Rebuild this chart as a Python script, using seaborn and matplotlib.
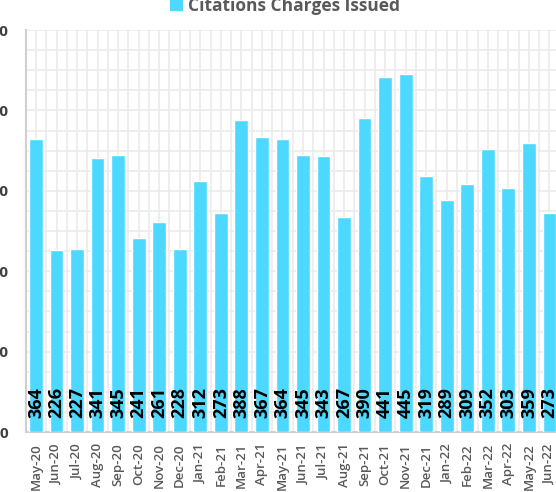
import pandas as pd
import matplotlib.pyplot as plt
import seaborn as sns
from matplotlib.ticker import MultipleLocator
from matplotlib.patches import Patch

# data
months = ["May-20", "Jun-20", "Jul-20", "Aug-20", "Sep-20", "Oct-20", "Nov-20", "Dec-20",
          "Jan-21", "Feb-21", "Mar-21", "Apr-21", "May-21", "Jun-21", "Jul-21", "Aug-21",
          "Sep-21", "Oct-21", "Nov-21", "Dec-21", "Jan-22", "Feb-22", "Mar-22", "Apr-22",
          "May-22", "Jun-22"]
citations = [364, 226, 227, 341, 345, 241, 261, 228, 312, 273, 388, 367, 364, 345, 343, 267,
             390, 441, 445, 319, 289, 309, 352, 303, 359, 273]
series_name = "Citations Charges Issued"

df = pd.DataFrame({"Month": months, "Citations": citations})

sns.set_theme(style="white")
plt.rcParams['font.family'] = ['Open Sans', 'DejaVu Sans']

bar_color = "#4DD9FF"
fig = plt.figure(figsize=(5.56, 4.92), dpi=100)
ax = fig.add_axes([25.7 / 556, 60 / 492, 534 / 556, 402 / 492])

sns.barplot(data=df, x="Month", y="Citations", color=bar_color, width=0.67,
            saturation=1, ax=ax, zorder=3)

ax.set_ylim(0, 500)
ax.set_xlim(-0.5, len(months) - 0.5)
ax.yaxis.set_major_locator(MultipleLocator(100))
ax.yaxis.set_minor_locator(MultipleLocator(25))
ax.set_xticks([i + 0.5 for i in range(-1, len(months))], minor=True)
ax.grid(True, which="both", color="#ebebeb", linewidth=1.2, zorder=0)
ax.set_axisbelow(True)

for side in ["top", "right"]:
    ax.spines[side].set_visible(False)
for side in ["left", "bottom"]:
    ax.spines[side].set_color("#d0d0d0")
    ax.spines[side].set_linewidth(1.5)

ax.set_xlabel("")
ax.set_ylabel("")
ax.tick_params(axis="x", which="both", length=0, pad=8, labelsize=9.5, labelcolor="#595959",
               labelrotation=90)
ax.tick_params(axis="y", which="both", length=0, pad=12.5, labelsize=11, labelcolor="#404040")
for lbl in ax.get_xticklabels():
    lbl.set_fontweight("semibold")
for lbl in ax.get_yticklabels():
    lbl.set_fontweight("bold")

# value labels sitting at the bottom of each bar
for i, v in enumerate(citations):
    ax.annotate(str(v), xy=(i, 0), xytext=(0, 10), textcoords="offset points",
                rotation=90, ha="center", va="bottom", fontsize=13, fontweight="bold",
                color="black", zorder=5)

handle = Patch(facecolor=bar_color, edgecolor="none")
fig.legend([handle], [series_name], loc="center", bbox_to_anchor=(285 / 556, 486 / 492),
           frameon=False, handlelength=0.75, handleheight=0.75, handletextpad=0.3,
           prop={"family": "Open Sans", "weight": "bold", "size": 12.5},
           labelcolor="#595959")

plt.savefig("out.png", dpi=100)
